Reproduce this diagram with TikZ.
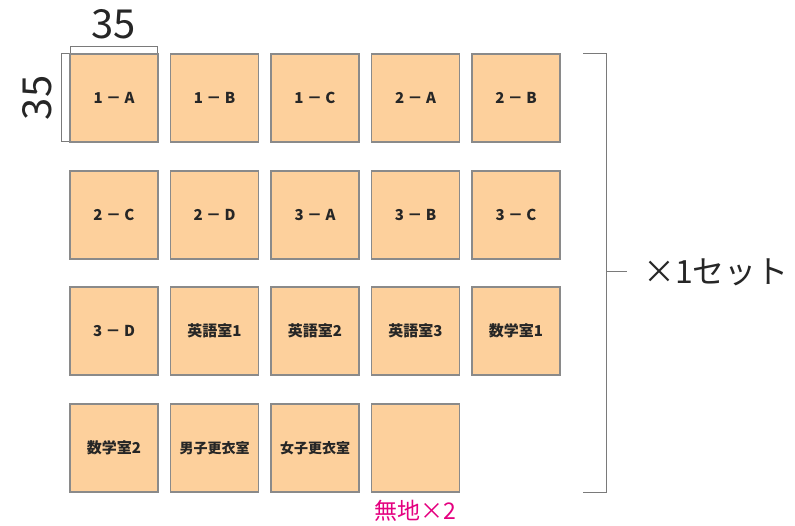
\documentclass[tikz,border=0pt]{standalone}
\usepackage{fontspec}
\newfontfamily\jp{Noto Sans CJK JP}
\newfontfamily\jpb{Noto Sans CJK JP Black}
\definecolor{peach}{HTML}{FDD09C}
\definecolor{edge}{HTML}{8A8A8A}
\definecolor{brk}{HTML}{7A7A7A}
\definecolor{pinktext}{HTML}{E4007F}
\tikzset{
  tile/.style={draw=edge, line width=1.2pt, fill=peach, minimum width=88pt, minimum height=88pt, inner sep=0pt, font=\jpb\fontsize{15}{15}\selectfont, text=black!85},
  bline/.style={draw=brk, line width=1pt},
}
\begin{document}
\begin{tikzpicture}[x=1pt,y=-1pt]
\useasboundingbox (0,0) rectangle (795,526);
% row 1
\node[tile] (t11) at (114,98) {1 － A};
\node[tile] (t12) at (214.5,98) {1 － B};
\node[tile] (t13) at (315,98) {1 － C};
\node[tile] (t14) at (415.5,98) {2 － A};
\node[tile] (t15) at (516,98) {2 － B};
% row 2
\node[tile] (t21) at (114,215) {2 － C};
\node[tile] (t22) at (214.5,215) {2 － D};
\node[tile] (t23) at (315,215) {3 － A};
\node[tile] (t24) at (415.5,215) {3 － B};
\node[tile] (t25) at (516,215) {3 － C};
% row 3
\node[tile] (t31) at (114,331) {3 － D};
\node[tile] (t32) at (214.5,331) {英語室1};
\node[tile] (t33) at (315,331) {英語室2};
\node[tile] (t34) at (415.5,331) {英語室3};
\node[tile] (t35) at (516,331) {数学室1};
% row 4
\node[tile] (t41) at (114,448) {数学室2};
\node[tile, font=\jpb\fontsize{14}{14}\selectfont] (t42) at (214.5,448) {男子更衣室};
\node[tile, font=\jpb\fontsize{14}{14}\selectfont] (t43) at (315,448) {女子更衣室};
\node[tile] (t44) at (415.5,448) {};
% blank label
\node[font=\jp\fontsize{23}{23}\selectfont, text=pinktext] (blank) at (415,511) {無地×2};
% top dimension
\coordinate (d1) at (70,53);
\coordinate (d2) at (70,47);
\coordinate (d3) at (157,47);
\coordinate (d4) at (157,53);
\draw[bline] (d1) -- (d2) -- (d3) -- (d4);
\node[font=\jp\fontsize{40}{40}\selectfont, text=black!85] (w35) at (113.5,24) {35};
% left dimension
\coordinate (e1) at (69,54);
\coordinate (e2) at (61,54);
\coordinate (e3) at (61,142);
\coordinate (e4) at (69,142);
\draw[bline] (e1) -- (e2) -- (e3) -- (e4);
\node[font=\jp\fontsize{40}{40}\selectfont, text=black!85, rotate=90] (h35) at (37,98) {35};
% right bracket
\coordinate (b1) at (583,54);
\coordinate (b2) at (606,54);
\coordinate (b3) at (606,492);
\coordinate (b4) at (583,492);
\coordinate (bm) at (606,272);
\coordinate (bt) at (627,272);
\draw[bline] (b1) -- (b2) -- (b3) -- (b4);
\draw[bline] (bm) -- (bt);
\node[anchor=west, font=\jp\fontsize{32}{32}\selectfont, text=black!85, inner sep=0pt] (set) at (643,272) {×1セット};
\end{tikzpicture}
\end{document}
